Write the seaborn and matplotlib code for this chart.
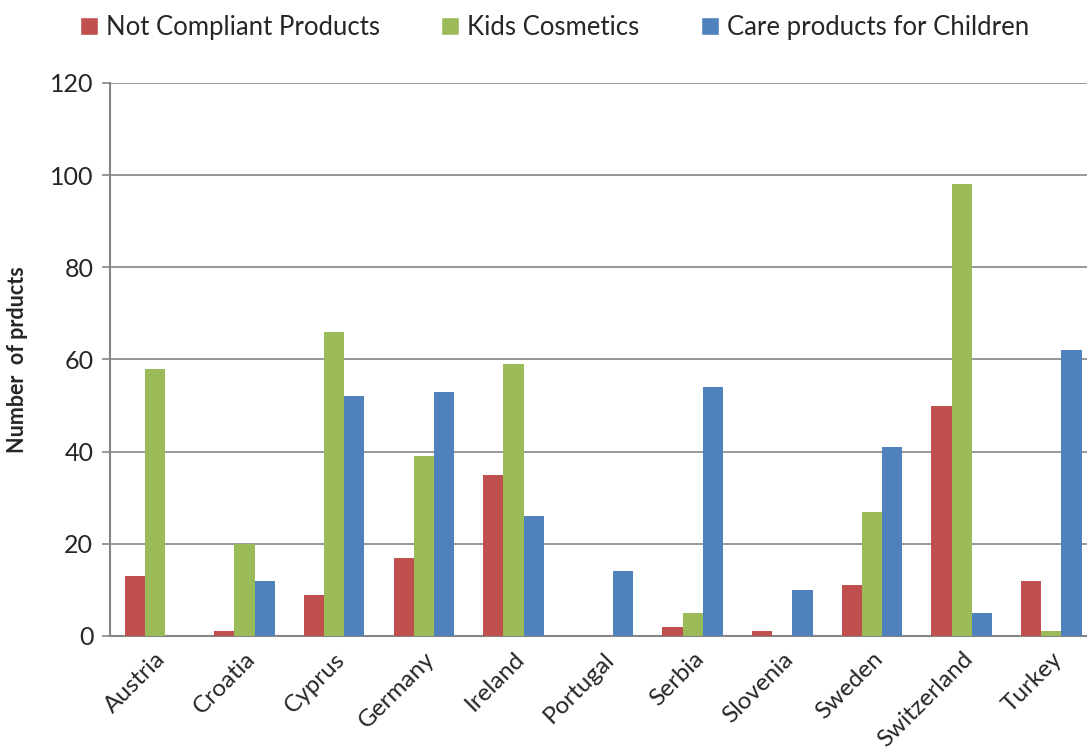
import matplotlib
matplotlib.use("Agg")
import matplotlib.pyplot as plt
import seaborn as sns
import pandas as pd
import numpy as np
from matplotlib.patches import Patch

countries = ["Austria", "Croatia", "Cyprus", "Germany", "Ireland", "Portugal",
             "Serbia", "Slovenia", "Sweden", "Switzerland", "Turkey"]
not_compliant = [13, 1, 9, 17, 35, 0, 2, 1, 11, 50, 12]
kids_cosmetics = [58, 20, 66, 39, 59, 0, 5, 0, 27, 98, 1]
care_children = [0, 12, 52, 53, 26, 14, 54, 10, 41, 5, 62]
series_names = ["Not Compliant Products", "Kids Cosmetics", "Care products for Children"]
colors = ["#C0504D", "#9BBB59", "#4F81BD"]
y_ticks = [0, 20, 40, 60, 80, 100, 120]

rows = []
for name, vals in zip(series_names, [not_compliant, kids_cosmetics, care_children]):
    for c, v in zip(countries, vals):
        rows.append({"Country": c, "Series": name, "Value": v})
df = pd.DataFrame(rows)

sns.set_style("white")
plt.rcParams['font.family'] = ['Lato', 'DejaVu Sans']

fig = plt.figure(figsize=(10.87, 7.53), dpi=100)
ax = fig.add_axes([0.1012, 0.1554, 0.9072, 0.7344])

sns.barplot(data=df, x="Country", y="Value", hue="Series", palette=colors,
            order=countries, hue_order=series_names, width=0.675, gap=0,
            saturation=1, ax=ax, legend=False, zorder=3, linewidth=0)

ax.set_ylim(0, 120)
ax.set_xlim(-0.5, len(countries) - 0.5)
ax.set_yticks(y_ticks)
ax.set_yticklabels([str(t) for t in y_ticks], fontsize=18)
ax.yaxis.grid(True, color="#868686", linewidth=1.2, zorder=0)
ax.set_axisbelow(True)
ax.set_xlabel("")
ax.set_ylabel("Number  of prducts", fontsize=15.5, fontweight="bold", labelpad=16)

ax.set_xticks(range(len(countries)))
ax.set_xticklabels(countries, rotation=45, ha="right", rotation_mode="anchor", fontsize=17.5)
ax.set_xticks(np.arange(-0.5, len(countries), 1), minor=True)
ax.tick_params(axis="x", which="major", length=0, pad=9)
ax.tick_params(axis="x", which="minor", length=8, width=1.5, color="#868686", direction="out")
ax.tick_params(axis="y", length=6, width=1.2, color="#868686", direction="out", left=True, pad=6)

for s in ["top", "right"]:
    ax.spines[s].set_visible(False)
for s in ["left", "bottom"]:
    ax.spines[s].set_color("#868686")
    ax.spines[s].set_linewidth(1.5)

handles = [Patch(facecolor=c, label=n) for c, n in zip(colors, series_names)]
fig.legend(handles=handles, loc="center", bbox_to_anchor=(0.51, 0.964), ncol=3,
           frameon=False, fontsize=18.5, handlelength=0.7, handleheight=0.7,
           handletextpad=0.3, columnspacing=2.4)

fig.savefig("out.png", dpi=100)
